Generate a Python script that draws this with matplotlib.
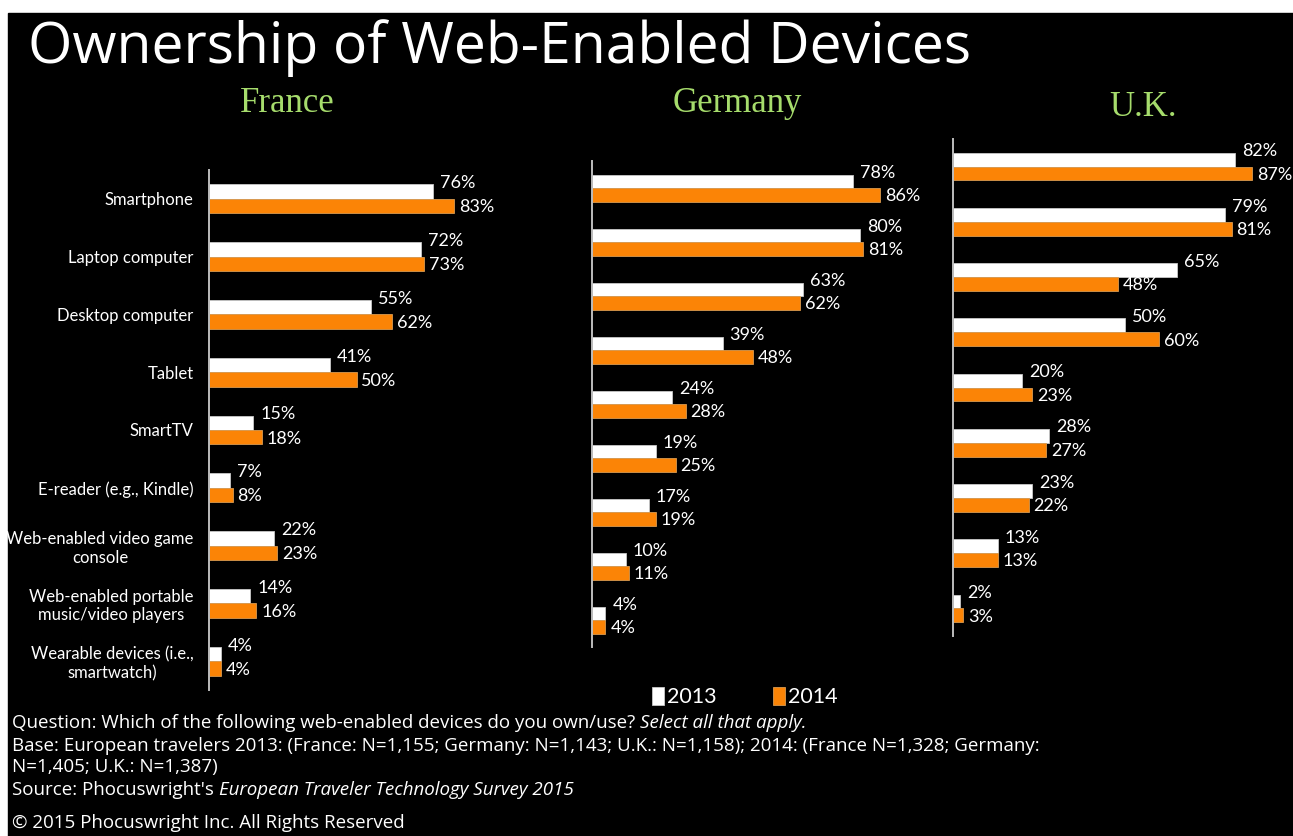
import matplotlib
matplotlib.use('Agg')
import matplotlib.pyplot as plt
from matplotlib import font_manager
from matplotlib.patches import Rectangle

# ── data ─────────────────────────────────────────────────────────────
categories = [
    'Smartphone',
    'Laptop computer',
    'Desktop computer',
    'Tablet',
    'SmartTV',
    'E-reader (e.g., Kindle)',
    'Web-enabled video game\nconsole',
    'Web-enabled portable\nmusic/video players',
    'Wearable devices (i.e.,\nsmartwatch)',
]
years = ['2013', '2014']

france_2013 = [76, 72, 55, 41, 15, 7, 22, 14, 4]
france_2014 = [83, 73, 62, 50, 18, 8, 23, 16, 4]
germany_2013 = [78, 80, 63, 39, 24, 19, 17, 10, 4]
germany_2014 = [86, 81, 62, 48, 28, 25, 19, 11, 4]
uk_2013 = [82, 79, 65, 50, 20, 28, 23, 13, 2]
uk_2014 = [87, 81, 48, 60, 23, 27, 22, 13, 3]

# ── style ────────────────────────────────────────────────────────────
W, H = 1293, 836
WHITE = '#ffffff'
ORANGE = '#fb8406'
GREEN = '#a6dc6c'

available = {f.name for f in font_manager.fontManager.ttflist}
NARROW = 'Lato' if 'Lato' in available else 'DejaVu Sans'
SANS = 'Open Sans' if 'Open Sans' in available else 'DejaVu Sans'


def box(x0, y0, x1, y1):
    # pixel box (top-left origin) -> figure fraction rect
    return [x0 / W, 1 - y1 / H, (x1 - x0) / W, (y1 - y0) / H]


fig = plt.figure(figsize=(W / 100, H / 100), dpi=100, facecolor='white')
fig.patches.append(Rectangle((8 / W, 0), 1 - 8 / W, 1 - 13 / H,
                             transform=fig.transFigure, color='black', zorder=-5))

fig.text(28 / W, 1 - 48 / H, 'Ownership of Web-Enabled Devices',
         family=SANS, fontsize=41, color='white', va='center', ha='left')

# (name, 2013, 2014, left px, top px, bottom px, px per %, xmax, title x, title y)
panels = [
    ('France', france_2013, france_2014, 209, 170, 690, 2.95, 100, 287, 103),
    ('Germany', germany_2013, germany_2014, 592, 161, 647, 3.35, 100, 737, 103),
    ('U.K.', uk_2013, uk_2014, 953, 139, 636, 3.44, 90, 1143, 108),
]

bh = 0.25
for i, (name, v13, v14, x0, y0, y1, scale, xmax, tx, ty) in enumerate(panels):
    ax = fig.add_axes(box(x0, y0, x0 + scale * xmax, y1))
    ax.set_facecolor('none')
    pos = list(range(len(categories)))
    b13 = ax.barh([p - bh / 2 for p in pos], v13, height=bh, color=WHITE,
                  edgecolor='#c8c8c8', linewidth=0.6, label=years[0])
    b14 = ax.barh([p + bh / 2 for p in pos], v14, height=bh, color=ORANGE,
                  edgecolor='#d89a50', linewidth=0.6, label=years[1])
    for p, v in zip(pos, v13):
        ax.annotate(f'{v}%', (v, p - bh / 2), xytext=(5, 6), textcoords='offset points',
                    ha='left', va='center', color='white', family=NARROW, fontsize=13)
    for p, v in zip(pos, v14):
        ax.annotate(f'{v}%', (v, p + bh / 2), xytext=(3.5, -1), textcoords='offset points',
                    ha='left', va='center', color='white', family=NARROW, fontsize=13)
    ax.set_xlim(0, xmax)
    ax.set_ylim(len(categories) - 0.5, -0.5)
    for s in ('top', 'right', 'bottom'):
        ax.spines[s].set_visible(False)
    ax.spines['left'].set_color('#bdbdbd')
    ax.spines['left'].set_linewidth(1.4)
    ax.set_xticks([])
    if i == 0:
        ax.set_yticks(pos)
        ax.set_yticklabels(categories, family=NARROW, fontsize=12, color='white',
                           multialignment='center')
        ax.tick_params(axis='y', length=0, pad=11)
    else:
        ax.set_yticks([])
    fig.text(tx / W, 1 - ty / H, name, family='Liberation Serif', fontsize=25,
             color=GREEN, ha='center', va='center')

fig.legend([b13, b14], years, loc='center', bbox_to_anchor=(745 / W, 1 - 697 / H),
           ncol=2, frameon=False, handlelength=0.55, handleheight=0.9,
           handletextpad=0.15, columnspacing=2.6, labelcolor='white',
           prop={'family': NARROW, 'size': 15.5})

# ── footnotes (mixed upright / italic runs) ──────────────────────────
renderer = fig.canvas.get_renderer()
notes = [
    (723, [('Question: Which of the following web-enabled devices do you own/use? ', 'normal'),
           ('Select all that apply.', 'italic')]),
    (746, [('Base: European travelers 2013: (France: N=1,155; Germany: N=1,143; U.K.: N=1,158); '
            '2014: (France N=1,328; Germany:', 'normal')]),
    (767, [('N=1,405; U.K.: N=1,387)', 'normal')]),
    (790, [("Source: Phocuswright's ", 'normal'),
           ('European Traveler Technology Survey 2015', 'italic')]),
    (823, [('© 2015 Phocuswright Inc. All Rights Reserved', 'normal')]),
]
for y, runs in notes:
    x = 12
    for txt, style in runs:
        t = fig.text(x / W, 1 - y / H, txt, family=SANS, style=style, fontsize=13.5,
                     color='white', ha='left', va='center')
        x += t.get_window_extent(renderer).width

fig.savefig('out.png', dpi=100, facecolor=fig.get_facecolor())
